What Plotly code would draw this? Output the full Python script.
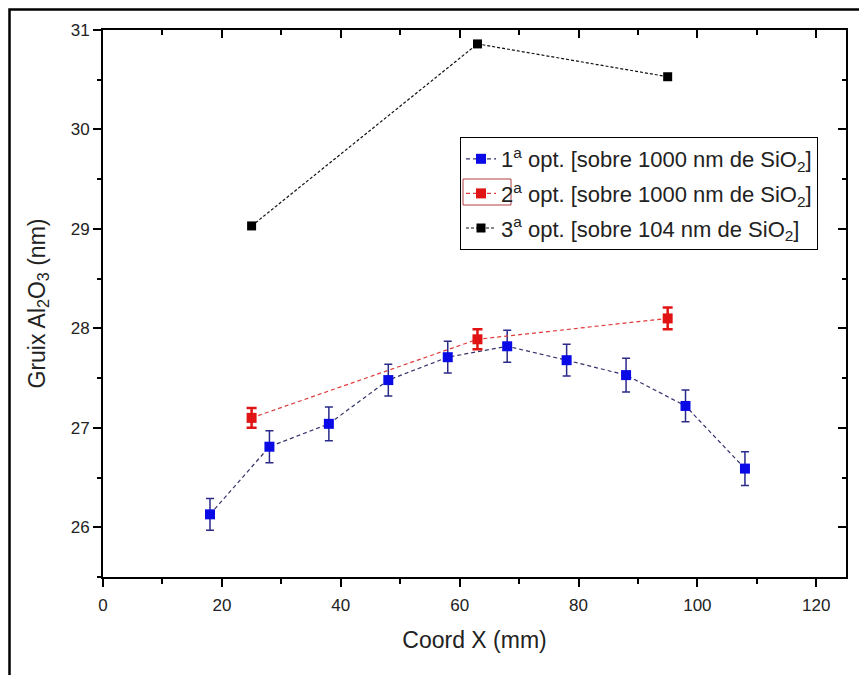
import plotly.graph_objects as go

# Data
x1 = [18, 28, 38, 48, 58, 68, 78, 88, 98, 108]
y1 = [26.13, 26.81, 27.04, 27.48, 27.71, 27.82, 27.68, 27.53, 27.22, 26.59]
e1 = [0.16, 0.16, 0.17, 0.16, 0.16, 0.16, 0.16, 0.17, 0.16, 0.17]

x2 = [25, 63, 95]
y2 = [27.10, 27.89, 28.10]
e2 = [0.10, 0.10, 0.11]

x3 = [25, 63, 95]
y3 = [29.03, 30.86, 30.53]

names = ["1<sup>a</sup> opt. [sobre 1000 nm de SiO<sub>2</sub>]",
         "2<sup>a</sup> opt. [sobre 1000 nm de SiO<sub>2</sub>]",
         "3<sup>a</sup> opt. [sobre 104 nm de SiO<sub>2</sub>]"]

FONT = "Liberation Sans, Arial, sans-serif"

fig = go.Figure()
fig.add_trace(go.Scatter(
    x=x1, y=y1, name=names[0], mode="lines+markers", legendgroup="g1",
    line=dict(color="#33336b", width=1.2, dash="4px,3px"),
    marker=dict(symbol="square", size=10, color="#0a0ae6"),
    error_y=dict(type="data", array=e1, visible=True, color="#2a2a8a", thickness=1.5, width=4),
))
fig.add_trace(go.Scatter(
    x=x2, y=y2, name=names[1], mode="lines+markers", legendgroup="g2",
    line=dict(color="#e03a3a", width=1.2, dash="4px,3px"),
    marker=dict(symbol="square", size=10, color="#e01414"),
    error_y=dict(type="data", array=e2, visible=True, color="#e01414", thickness=2.5, width=5),
))
fig.add_trace(go.Scatter(
    x=x3, y=y3, name=names[2], mode="lines+markers", legendgroup="g3",
    line=dict(color="#111111", width=1.2, dash="3px,2px"),
    marker=dict(symbol="square", size=9, color="#000000"),
))
# empty trace to make mirror axes exist
fig.add_trace(go.Scatter(x=[], y=[], xaxis="x2", yaxis="y2", showlegend=False, hoverinfo="skip"))

# page offset of the figure (body margin)
OFF = 8
W, H = 867, 675
L, R, T, B = 95, 29, 22, 106

axis_common = dict(showgrid=False, zeroline=False, showline=True, linecolor="black",
                   linewidth=2, tickcolor="black", tickwidth=2, automargin=False)

pw = W - L - R
ph = H - T - B
def px(xp):
    return (xp - OFF - L) / pw
def py(yp):
    return (H - B - (yp - OFF)) / ph

fig.update_layout(
    width=W, height=H, autosize=False,
    margin=dict(l=L, r=R, t=T, b=B, autoexpand=False),
    paper_bgcolor="white", plot_bgcolor="white",
    font=dict(family=FONT, color="#222222", size=17),
    xaxis=dict(range=[0, 125], tick0=0, dtick=20, ticks="outside", ticklen=8,
               ticklabelstandoff=4,
               minor=dict(ticks="outside", dtick=10, ticklen=5, tickcolor="black", tickwidth=2),
               title=dict(text="Coord X (mm)", font=dict(size=23), standoff=17),
               tickfont=dict(size=17), **axis_common),
    xaxis2=dict(range=[0, 125], overlaying="x", side="top", anchor="y", tick0=0, dtick=20,
                ticks="inside", ticklen=8, showticklabels=False,
                minor=dict(ticks="inside", dtick=10, ticklen=5, tickcolor="black", tickwidth=2),
                **axis_common),
    yaxis=dict(range=[25.5, 31], tick0=26, dtick=1, ticks="outside", ticklen=8,
               minor=dict(ticks="outside", dtick=0.5, ticklen=4, tickcolor="black", tickwidth=2),
               title=dict(text="Gruix Al<sub>2</sub>O<sub>3</sub> (nm)", font=dict(size=23), standoff=19),
               tickfont=dict(size=17), **axis_common),
    yaxis2=dict(range=[25.5, 31], overlaying="y", side="right", anchor="x", tick0=26, dtick=1,
                ticks="inside", ticklen=8, showticklabels=False,
                minor=dict(ticks="inside", dtick=0.5, ticklen=4, tickcolor="black", tickwidth=2),
                **axis_common),
    legend=dict(x=px(460), y=py(137), xanchor="left", yanchor="top",
                bgcolor="rgba(0,0,0,0)", bordercolor="black", borderwidth=1,
                font=dict(size=22, color="#222222"), itemwidth=30, tracegroupgap=3),
    showlegend=True,
)

# outer frame (top and left border)
fig.add_shape(type="path", xref="paper", yref="paper",
              path=f"M {px(9.5)} {py(700)} L {px(9.5)} {py(9.5)} L {px(900)} {py(9.5)}",
              line=dict(color="black", width=2.5))
# selection rectangle around red legend symbol
fig.add_shape(type="rect", xref="paper", yref="paper",
              x0=px(463), x1=px(511), y0=py(205), y1=py(179),
              line=dict(color="#b04040", width=1))

fig.write_html("out.html")
